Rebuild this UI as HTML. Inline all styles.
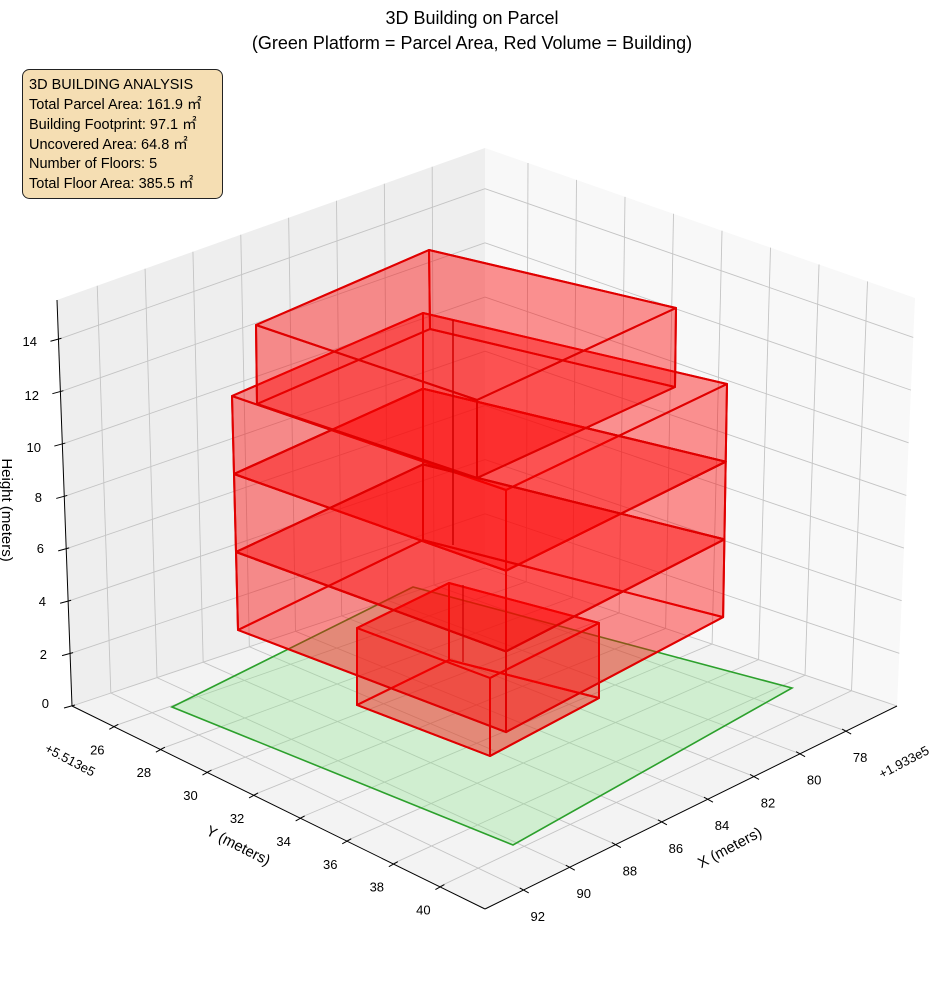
<!DOCTYPE html>
<html><head><meta charset="utf-8"><style>
html,body{margin:0;padding:0;background:#fff;}
svg{display:block;font-family:"Liberation Sans",sans-serif;}
</style></head><body>
<svg id="s" width="944" height="992" viewBox="0 0 944 992" xmlns="http://www.w3.org/2000/svg">
<g id="g"></g>
<text x="472" y="24" font-size="18" text-anchor="middle">3D Building on Parcel</text>
<text x="472" y="49" font-size="18" text-anchor="middle">(Green Platform = Parcel Area, Red Volume = Building)</text>
<rect x="22.5" y="69.5" width="200" height="129" rx="7" fill="#f5deb3" stroke="#222" stroke-width="1"/>
<g font-size="14.5" fill="#000">
<text x="29" y="89">3D BUILDING ANALYSIS</text>
<text x="29" y="109">Total Parcel Area: 161.9 ㎡</text>
<text x="29" y="129">Building Footprint: 97.1 ㎡</text>
<text x="29" y="149">Uncovered Area: 64.8 ㎡</text>
<text x="29" y="168">Number of Floors: 5</text>
<text x="29" y="188">Total Floor Area: 385.5 ㎡</text>
</g>
<g font-size="13" text-anchor="end">
<text x="49" y="708">0</text><text x="47" y="659">2</text><text x="46" y="606">4</text><text x="44" y="553">6</text>
<text x="42" y="502">8</text><text x="41" y="452">10</text><text x="39" y="400">12</text><text x="37" y="346">14</text>
</g>
<text transform="translate(2,510) rotate(90)" font-size="15" text-anchor="middle">Height (meters)</text>
<g font-size="13" text-anchor="middle" id="ylab"></g>
<g font-size="13" text-anchor="middle" id="xlab"></g>
<text transform="translate(68,764) rotate(28)" font-size="13" text-anchor="middle">+5.513e5</text>
<text transform="translate(906,766) rotate(-28)" font-size="13" text-anchor="middle">+1.933e5</text>
<text transform="translate(236,850) rotate(27)" font-size="15" text-anchor="middle">Y (meters)</text>
<text transform="translate(732,852) rotate(-28)" font-size="15" text-anchor="middle">X (meters)</text>
</svg>
<script>
const g=document.getElementById('g');const NS='http://www.w3.org/2000/svg';
function el(t,a,p){const e=document.createElementNS(NS,t);for(const k in a)e.setAttribute(k,a[k]);(p||g).appendChild(e);return e;}
const L=(p,q,t)=>[p[0]+(q[0]-p[0])*t,p[1]+(q[1]-p[1])*t];
const pts=a=>a.map(p=>p[0].toFixed(1)+','+p[1].toFixed(1)).join(' ');
const At=[57,300],Ab=[72,706],Bt=[485,148],Bb=[485,568],Ct=[915,298],Cb=[897,706],D=[485,909];
el('polygon',{points:pts([At,Bt,Bb,Ab]),fill:'#eeeeee'});
el('polygon',{points:pts([Bt,Ct,Cb,Bb]),fill:'#f8f8f8'});
el('polygon',{points:pts([Ab,Bb,Cb,D]),fill:'#f3f3f3'});
const gs={stroke:'#c4c4c4','stroke-width':0.9,fill:'none'};
function ln(p,q,a){el('line',Object.assign({x1:p[0],y1:p[1],x2:q[0],y2:q[1]},a));}
const tv=[],sv=[];
for(let i=0;i<8;i++){tv.push(0.094+0.1118*i);sv.push(0.1+0.1128*i);}
tv.forEach(t=>{ln(L(At,Bt,t),L(Ab,Bb,t),gs);ln(L(Ab,Bb,t),L(D,Cb,t),gs);});
sv.forEach(s=>{ln(L(Bt,Ct,s),L(Bb,Cb,s),gs);ln(L(Bb,Cb,s),L(Ab,D,s),gs);});
for(let z=0;z<=14;z+=2){const u=z/15.5;ln(L(Ab,At,u),L(Bb,Bt,u),gs);ln(L(Bb,Bt,u),L(Cb,Ct,u),gs);}
const ax={stroke:'#000','stroke-width':1};
ln(At,Ab,ax);ln(Ab,D,ax);ln(D,Cb,ax);
for(let z=0;z<=14;z+=2){const p=L(Ab,At,z/15.5);ln([p[0]-8,p[1]+2],[p[0]+3,p[1]-1],ax);}
const yl=document.getElementById('ylab'),xl=document.getElementById('xlab');
sv.forEach((s,i)=>{const p=L(Ab,D,s);ln([p[0]-4,p[1]+3],[p[0]+5,p[1]-2],ax);
 const t=el('text',{x:p[0]-16,y:p[1]+28},yl);t.textContent=26+2*i;});
tv.forEach((t,i)=>{const p=L(D,Cb,t);ln([p[0]-4,p[1]-2],[p[0]+5,p[1]+3],ax);
 const e=el('text',{x:p[0]+14,y:p[1]+31},xl);e.textContent=92-2*i;});
el('polygon',{points:pts([[172,707],[413,587],[792,688],[513,845]]),fill:'rgba(144,230,144,0.35)',stroke:'#2ca02c','stroke-width':1.6});
const rs={fill:'rgba(255,0,0,0.24)',stroke:'#e00000','stroke-width':2,'stroke-linejoin':'round'};
function box(T,Bo){
 el('polygon',Object.assign({points:pts(Bo)},rs));
 for(let i=0;i<4;i++){const j=(i+1)%4;el('polygon',Object.assign({points:pts([T[i],T[j],Bo[j],Bo[i]])},rs));}
 el('polygon',Object.assign({points:pts(T)},rs));
}
function lev(k){return [[232+2*k,396+78*k],[423,313+75.7*k],[727-1.3*k,384+77.7*k],[506,490+80.7*k]];}
box([[357,628],[449,583],[599,623],[490,678]],[[357,705],[449,660],[599,698],[490,756]]);
for(let k=0;k<3;k++)box(lev(k),lev(k+1));
box([[256,325],[429,250],[676,308],[477,400]],[[257,404],[430,329],[675,387],[477,478]]);
ln([453,320],[453,545],{stroke:'#d00000','stroke-width':1.5});
ln([463,585],[463,662],{stroke:'#d00000','stroke-width':1.2});
</script>
</body></html>
